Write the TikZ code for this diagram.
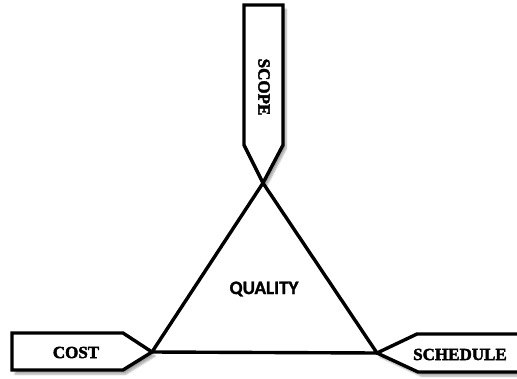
\documentclass[tikz,border=0pt]{standalone}
\usepackage{fontspec}
\setmainfont{Liberation Serif}
\newfontfamily\lfont[FakeBold=2.5]{Liberation Serif Bold}
\newfontfamily\qfont[FakeBold=1.5]{Carlito Bold}
\usetikzlibrary{shadows.blur}
\begin{document}
\begin{tikzpicture}[x=1pt,y=-1pt,
  edge/.style={line width=3.4pt,line join=miter,miter limit=20},
  box/.style={edge,fill=white,blur shadow={shadow xshift=3pt,shadow yshift=-4pt,shadow blur steps=6,shadow opacity=35}},
  lbl/.style={font=\lfont\fontsize{17}{17}\selectfont,inner sep=0pt},
  qlbl/.style={font=\qfont\fontsize{19}{19}\selectfont,inner sep=0pt}]
\useasboundingbox (0,0) rectangle (517,378);
\clip (0,0) rectangle (517,378);
\coordinate (A) at (263,183);
\coordinate (B) at (152,352);
\coordinate (C) at (377,353);
% triangle
\draw[edge] (A) -- (B) -- (C) -- cycle;
% scope box
\draw[box] (244,5) -- (283,5) -- (283,145) -- (A) -- (244,145) -- cycle;
% cost box
\draw[box] (12,333) -- (123,333) -- (B) -- (123,370) -- (12,370) -- cycle;
% schedule box
\draw[box] (540,334) -- (417,334) -- (C) -- (418,372) -- (540,372);
% labels
\node[lbl,rotate=-90] (scope) at (264,87) {SCOPE};
\node[lbl] (cost) at (76,352.5) {COST};
\node[lbl] (schedule) at (460,354.5) {SCHEDULE};
\node[qlbl] (quality) at (264,289) {QUALITY};
\end{tikzpicture}
\end{document}
